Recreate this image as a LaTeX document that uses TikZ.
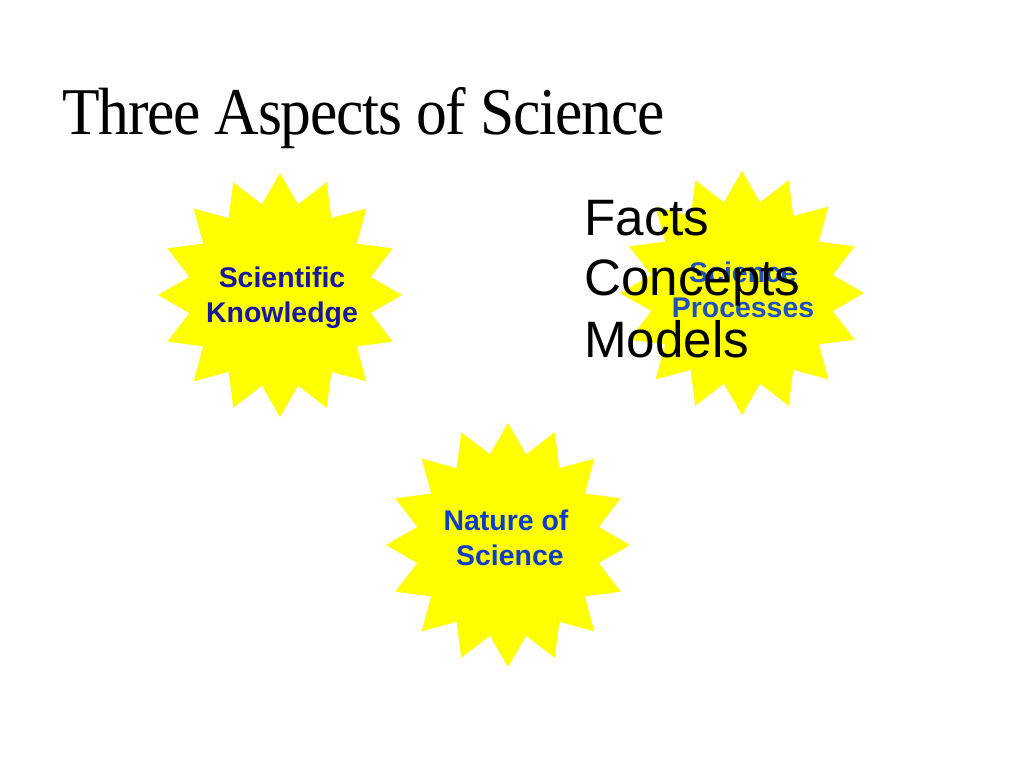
\documentclass[tikz,border=0pt]{standalone}
\usepackage{fontspec}
\usepackage{graphicx}
\setmainfont{Liberation Serif}
\setsansfont{Liberation Sans}
\newfontfamily\titlefont[LetterSpace=-2]{Liberation Serif}
\usetikzlibrary{shapes.geometric}
\definecolor{starY}{RGB}{255,255,0}
\definecolor{skblue}{RGB}{24,24,160}
\definecolor{nsblue}{RGB}{14,62,200}
\definecolor{spblue}{RGB}{30,80,192}
\begin{document}
\begin{tikzpicture}[x=0.703125bp,y=-0.703125bp,
  burst/.style={star,star points=16,star point ratio=1.32,fill=starY,draw=none,
    minimum size=171.6bp,inner sep=0pt},
  lbl/.style={font=\sffamily\bfseries\fontsize{20bp}{24.6bp}\selectfont,align=center,inner sep=0pt},
  biglbl/.style={font=\sffamily\fontsize{36bp}{42bp}\selectfont,anchor=base west,inner sep=0pt,text=black}]
\useasboundingbox[fill=white] (0,0) rectangle (1024,768);
\node[anchor=base west,inner sep=0pt] (title) at (62,135)
  {\scalebox{0.92}[1]{\titlefont\fontsize{47bp}{50bp}\selectfont Three Aspects of Science}};
\node[burst] (sk) at (280,295) {};
\node[burst] (sp) at (742,293) {};
\node[burst] (ns) at (508,545) {};
\node[lbl,text=skblue] (skt) at (282,298) {Scientific\\Knowledge};
\node[lbl,text=spblue] (spt) at (743,290) {Science\\Processes};
\node[lbl,text=nsblue] (nst) at (506,538) {Nature of\\\ Science};
\node[biglbl] (facts) at (584,235) {Facts};
\node[biglbl] (concepts) at (584,295) {Concepts};
\node[biglbl] (models) at (584,357) {Models};
\end{tikzpicture}
\end{document}
